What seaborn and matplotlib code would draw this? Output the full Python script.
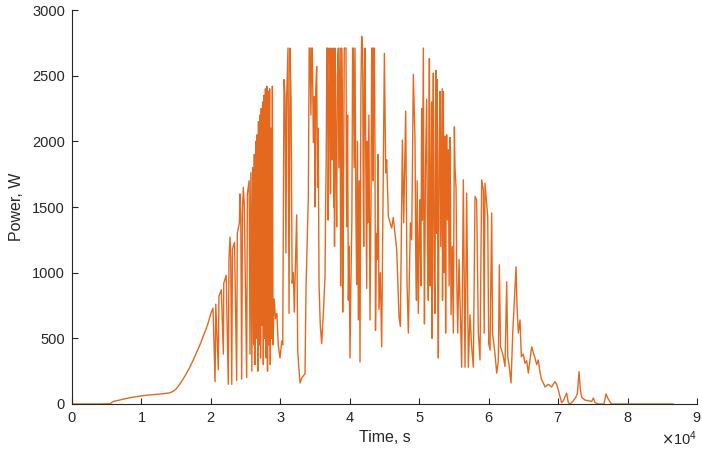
import matplotlib
matplotlib.use("Agg")
import matplotlib.pyplot as plt
import pandas as pd
import seaborn as sns
from matplotlib.ticker import ScalarFormatter

# values (time in s, power in W)
dawn_time = [0, 2000, 4000, 5500, 5800, 6000, 7000, 8000, 9000, 10000, 11000, 12000,
             13000, 14000, 14500, 15000, 15500, 16000, 16500, 17000, 17500, 18000,
             18500, 19000]
dawn_power = [0, 0, 0, 2, 15, 20, 32, 44, 54, 62, 68, 73,
              78, 84, 95, 115, 150, 190, 235, 284, 340, 400,
              460, 530]

ramp_time = [19500, 20000, 20300, 20600, 20700, 21070, 21150, 21500, 21790, 21850,
             22200, 22500, 22600, 22750, 22850, 23000, 23100, 23400, 23710, 23800,
             24100, 24190, 24300, 24430, 24550, 24670, 24800, 25150, 25250, 25500,
             25630, 25750, 25900, 26000, 26150, 26250, 26350, 26450, 26550, 26650,
             26750, 26850, 26950, 27050, 27150, 27250, 27350, 27450, 27550, 27650,
             27750, 27850, 27950, 28050, 28150, 28250, 28350, 28450, 28550, 28650,
             28750, 28850, 28950]
ramp_power = [600, 690, 730, 170, 760, 260, 820, 870, 380, 920,
              980, 150, 1100, 1270, 1120, 150, 1180, 1230, 180, 1300,
              1380, 1600, 1430, 190, 1480, 1650, 1520, 200, 1600, 1700,
              380, 1760, 250, 1800, 450, 1900, 300, 2000, 500, 2050,
              250, 2150, 450, 2200, 350, 2250, 600, 2300, 300, 2350,
              500, 2400, 350, 2420, 250, 2380, 450, 2400, 300, 2100,
              500, 2420, 450]

midday_time = [29100, 29300, 29500, 29700, 29950, 30200, 30340, 30530, 30670, 30800,
               30910, 31100, 31250, 31400, 31540, 31700, 31870, 32000, 32350, 32500,
               32830, 33100, 33550, 33700, 34030, 34150, 34270, 34400, 34500, 34600,
               34750, 34900, 35000, 35100, 35230, 35350, 35450, 35570, 35750, 35950,
               36200, 36430, 36520, 36600, 36700, 36800, 36880, 36950, 37050, 37150,
               37220, 37300, 37380, 37450, 37520, 37600, 37680, 37750, 37800, 37870,
               37950, 38000, 38110, 38200, 38350, 38420, 38500, 38600, 38680, 38750,
               38820, 38900, 38980, 39070, 39200, 39310, 39450, 39550, 39680, 39790,
               39900, 40030, 40150, 40300, 40400, 40510, 40620, 40750, 40870, 40990,
               41100, 41230, 41350, 41470, 41600, 41710, 41850, 41920, 42000, 42100,
               42190, 42300, 42430, 42520, 42600, 42750, 42910, 43050, 43150, 43250,
               43350, 43450, 43540, 43630, 43700, 43850, 43970, 44080, 44200, 44400,
               44590, 44980, 45170, 45310, 45550, 45800, 46030, 46270, 46400, 46750,
               47090, 47280, 47570, 47760, 48050, 48240, 48430, 48720, 48910, 49150]
midday_power = [800, 650, 690, 450, 350, 480, 450, 2470, 2340, 1150,
                2330, 2710, 690, 2710, 2300, 920, 1000, 700, 1440, 400,
                160, 200, 230, 900, 1580, 2710, 2710, 2200, 2710, 2710,
                1990, 2340, 1500, 2400, 2570, 1650, 2100, 910, 600, 460,
                700, 970, 1500, 1850, 2710, 2710, 1400, 1800, 2710, 2360,
                1600, 2710, 1900, 1860, 2600, 2710, 1500, 2300, 1200, 2710,
                2200, 1900, 1350, 2500, 2710, 1800, 2200, 2710, 900, 1600,
                2710, 2400, 700, 1380, 2710, 2710, 2710, 1350, 2200, 790,
                1200, 350, 900, 1400, 2710, 2710, 1800, 2710, 1500, 910,
                2000, 640, 1700, 320, 2400, 2800, 2710, 1800, 1200, 2500,
                2710, 1900, 880, 2000, 1380, 2200, 640, 1500, 2710, 2710,
                1700, 2710, 2710, 1860, 560, 1300, 1100, 1900, 720, 1000,
                435, 2670, 1760, 1860, 1430, 1380, 1340, 1420, 1350, 1180,
                665, 590, 2010, 1380, 2230, 920, 540, 1380, 1250, 2510]

afternoon_time = [49390, 49500, 49600, 49700, 49870, 50000, 50110, 50230, 50350, 50450,
                  50590, 50680, 50750, 50900, 51070, 51180, 51310, 51380, 51460, 51580,
                  51700, 51780, 51850, 51940, 52030, 52150, 52270, 52350, 52420, 52500,
                  52600, 52680, 52750, 52870, 52990, 53100, 53230, 53300, 53350, 53420,
                  53470, 53580, 53710, 53800, 53880, 53950, 54070, 54190, 54300, 54430,
                  54500, 54580, 54750, 54910, 55000, 55060, 55150, 55300, 55420, 55540,
                  55730, 56110, 56350, 56590, 56830, 57070, 57310, 57550, 57790, 58030,
                  58270, 58510, 58750, 58990, 59230, 59350, 59470]
afternoon_power = [2010, 1100, 790, 1700, 690, 1300, 1555, 900, 2250, 1400,
                   2710, 1200, 610, 1800, 2320, 1200, 790, 1900, 2630, 900,
                   1650, 2300, 500, 1800, 2520, 1000, 690, 2200, 2540, 1300,
                   2470, 900, 350, 1900, 2380, 1200, 2030, 2400, 790, 1600,
                   2380, 1000, 2040, 540, 1700, 2050, 1400, 1935, 900, 2030,
                   1500, 680, 1200, 540, 1400, 2110, 1800, 1650, 900, 540,
                   1100, 280, 1707, 280, 1605, 280, 680, 435, 280, 1580,
                   1555, 540, 336, 1707, 1630, 540, 1680]

dusk_time = [59860, 60000, 60190, 60430, 60560, 60910, 61150, 61390, 61540, 61700,
             61870, 62110, 62350, 62590, 62750, 62930, 63220, 63460, 63700, 63940,
             64080, 64270, 64510, 64700, 64990, 65230, 65470, 65710, 66190, 66430,
             66670, 66910, 67150, 67390, 67630, 67870, 68110, 68590, 69070, 69300,
             69550, 69790, 70030, 70270, 70510, 70750, 70990, 71230, 71470, 71710,
             71950, 72190, 72530, 72770, 73010, 73200, 73400, 73870, 74350, 74830,
             75070, 75310, 75800, 76600, 76900, 77100, 77420, 77700, 80000, 83000,
             86600]
dusk_power = [1430, 464, 410, 1455, 540, 380, 235, 330, 1060, 435,
              410, 360, 285, 930, 360, 300, 160, 540, 790, 1045,
              745, 540, 640, 360, 380, 310, 330, 235, 435, 390,
              350, 300, 335, 240, 183, 160, 130, 150, 130, 150,
              170, 150, 107, 56, 10, 25, 56, 82, 10, 0,
              10, 25, 50, 80, 246, 107, 50, 30, 25, 20,
              45, 10, 0, 0, 76, 50, 20, 0, 0, 0,
              0]

LINE_COLOR = "#E4691F"
AXIS_COLOR = "#262626"


def build_frame():
    times = dawn_time + ramp_time + midday_time + afternoon_time + dusk_time
    powers = dawn_power + ramp_power + midday_power + afternoon_power + dusk_power
    return pd.DataFrame({"time_s": times, "power_w": powers})


def main():
    df = build_frame()

    sns.set_style("ticks")
    plt.rcParams["font.family"] = ["Liberation Sans", "DejaVu Sans"]
    plt.rcParams["xtick.direction"] = "in"
    plt.rcParams["ytick.direction"] = "in"

    fig = plt.figure(figsize=(7.02, 4.55), dpi=100)
    ax = fig.add_axes([0.1026, 0.1121, 0.8903, 0.8659])

    sns.lineplot(data=df, x="time_s", y="power_w", color=LINE_COLOR,
                 linewidth=1.0, estimator=None, ax=ax)

    ax.set_xlim(0, 90000)
    ax.set_ylim(0, 3000)
    ax.set_xticks(range(0, 90001, 10000))
    ax.set_yticks(range(0, 3001, 500))

    fmt = ScalarFormatter(useMathText=True)
    fmt.set_powerlimits((0, 0))
    ax.xaxis.set_major_formatter(fmt)
    ax.xaxis.get_offset_text().set_fontsize(10.5)
    ax.xaxis.get_offset_text().set_color(AXIS_COLOR)

    sns.despine(ax=ax)
    for side in ("left", "bottom"):
        ax.spines[side].set_color(AXIS_COLOR)
        ax.spines[side].set_linewidth(0.8)
    ax.tick_params(axis="both", labelsize=10.5, colors=AXIS_COLOR, length=4, pad=5)

    ax.set_xlabel("Time, s", fontsize=11.5, color=AXIS_COLOR, labelpad=4)
    ax.set_ylabel("Power, W", fontsize=11.5, color=AXIS_COLOR, labelpad=6)

    fig.savefig("out.png", dpi=100)
    plt.close(fig)


if __name__ == "__main__":
    main()
